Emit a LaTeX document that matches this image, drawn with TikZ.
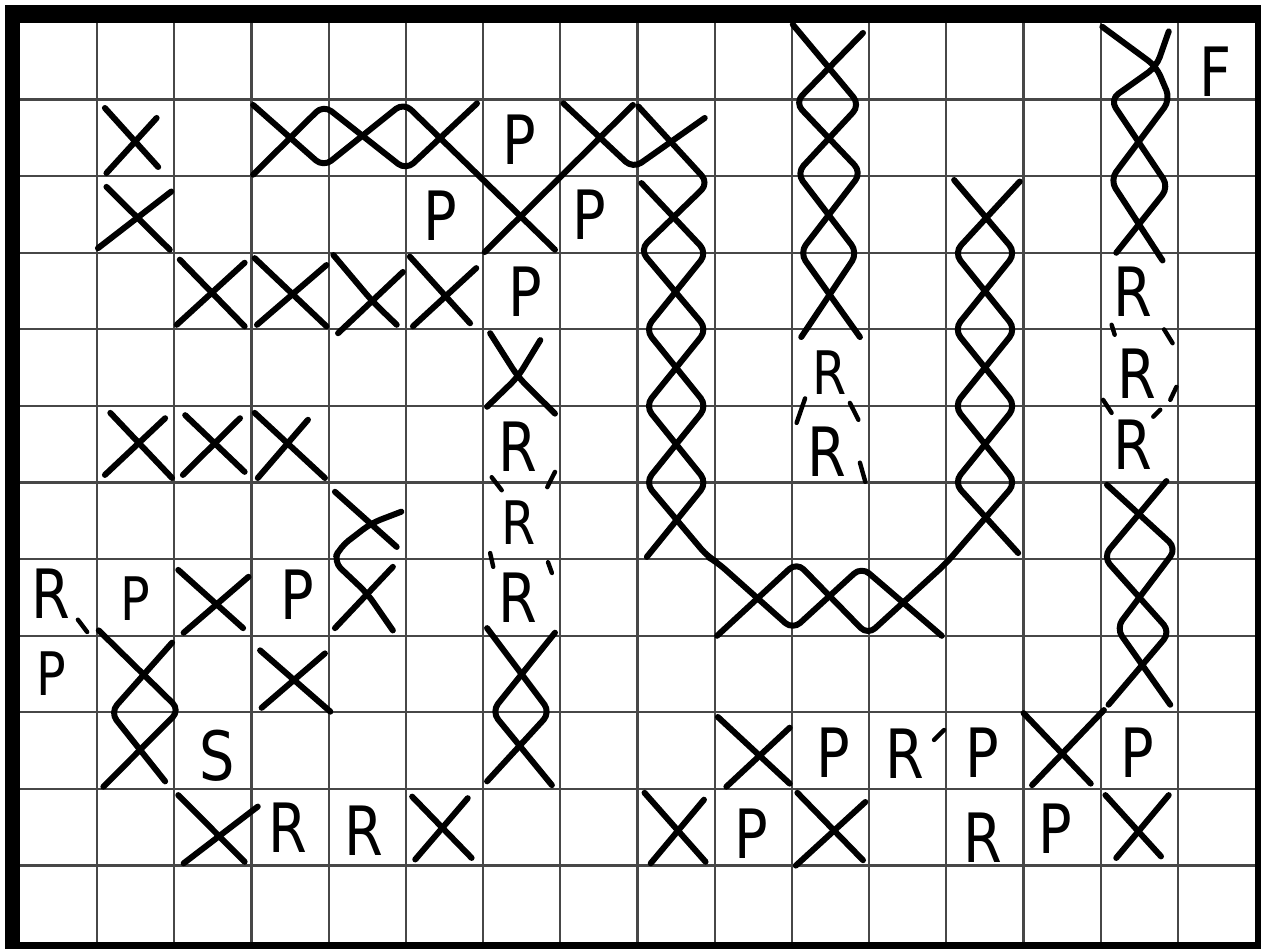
\documentclass[tikz,border=0pt]{standalone}
\usepackage{fontspec}
\newfontfamily\handfont[FakeStretch=0.82]{DejaVu Sans}

\begin{document}
\begin{tikzpicture}[x=38.6pt,y=-38.3pt]
    \tikzset{
        gridline/.style={draw=black!72, line width=1.1pt},
        xstroke/.style={
            draw=black,
            line width=3pt,
            line cap=round,
            line join=round,
            rounded corners=5pt
        },
        ringtick/.style={draw=black, line width=2.2pt, line cap=round},
        tile/.style={
            font=\handfont\fontsize{34}{34}\selectfont,
            inner sep=0pt
        },
        smalltile/.style={tile,font=\handfont\fontsize{30}{30}\selectfont}
    }
    \useasboundingbox (-0.259,-0.300) rectangle (16.140,12.089);

    % frame and grid
    \fill[black] (-0.194,-0.235) rectangle (16.080,12.089);
    \fill[white] (0,0) rectangle (16,12);
    \foreach \c in {1,...,15} \draw[gridline] (\c,0) -- (\c,12);
    \foreach \r in {1,...,11} \draw[gridline] (0,\r) -- (16,\r);

    % upper left walls
    \draw[xstroke] (1.10,1.11) -- (1.79,1.88);
    \draw[xstroke] (1.77,1.24) -- (1.12,1.96);
    \draw[xstroke] (1.12,2.14) -- (1.94,2.96);
    \draw[xstroke] (1.96,2.20) -- (1.01,2.94);
    \draw[xstroke] (3.02,1.07) -- (3.93,1.88) -- (4.97,1.04) -- (6.93,2.96);
    \draw[xstroke] (3.02,1.98) -- (3.93,1.07) -- (5.00,1.92) -- (5.92,1.05);
    \draw[xstroke] (6.02,2.99) -- (7.94,1.07);
    \draw[xstroke] (7.04,1.05) -- (7.94,1.90) -- (8.87,1.24);
    \draw[xstroke] (2.07,3.09) -- (2.91,3.96);
    \draw[xstroke] (2.91,3.13) -- (2.03,3.94);
    \draw[xstroke] (3.04,3.07) -- (3.97,3.96);
    \draw[xstroke] (3.97,3.16) -- (3.07,3.94);
    \draw[xstroke] (4.06,3.03) -- (4.57,3.64) -- (4.88,3.94);
    \draw[xstroke] (4.96,3.25) -- (4.12,4.05);
    \draw[xstroke] (5.05,3.05) -- (5.83,3.92);
    \draw[xstroke] (5.91,3.20) -- (5.09,3.96);
    \draw[xstroke] (6.09,4.05) -- (6.45,4.62) -- (6.93,5.10);
    \draw[xstroke] (6.74,4.14) -- (6.45,4.62) -- (6.05,5.01);

    % middle left walls
    \draw[xstroke] (1.17,5.09) -- (1.97,5.94);
    \draw[xstroke] (1.88,5.16) -- (1.10,5.90);
    \draw[xstroke] (2.14,5.12) -- (2.91,5.86);
    \draw[xstroke] (2.85,5.16) -- (2.11,5.90);
    \draw[xstroke] (3.04,5.09) -- (3.95,5.94);
    \draw[xstroke] (3.73,5.18) -- (3.08,5.94);
    \draw[xstroke] (4.08,6.12) -- (4.88,6.84);
    \draw[xstroke] (4.94,6.38) -- (4.55,6.53) -- (4.15,6.84) -- (4.06,7.03)
        -- (4.50,7.45) -- (4.83,7.93);
    \draw[xstroke] (4.83,7.10) -- (4.08,7.90);
    \draw[xstroke] (2.05,7.14) -- (2.89,7.90);
    \draw[xstroke] (2.96,7.23) -- (2.12,7.96);
    \draw[xstroke] (1.02,7.93) -- (2.07,8.97) -- (1.08,9.97);
    \draw[xstroke] (1.97,8.09) -- (1.17,9.00) -- (1.88,9.90);
    \draw[xstroke] (3.11,8.19) -- (4.02,8.99);
    \draw[xstroke] (3.95,8.23) -- (3.13,8.94);
    \draw[xstroke] (6.05,7.90) -- (6.87,9.00) -- (6.05,9.90);
    \draw[xstroke] (6.93,7.96) -- (6.11,8.99) -- (6.89,9.95);

    % long ropes on the right
    \draw[xstroke] (8.01,1.09) -- (8.92,2.09) -- (8.03,2.96) -- (8.90,4.00)
        -- (8.10,5.00) -- (8.90,6.00) -- (8.12,6.97);
    \draw[xstroke] (8.05,2.09) -- (8.90,3.00) -- (8.10,4.00) -- (8.90,5.00)
        -- (8.10,6.00) -- (8.91,6.97) -- (9.03,7.04) -- (10.01,7.92)
        -- (10.90,7.10) -- (11.94,8.00);
    \draw[xstroke] (10.01,0.02) -- (10.88,1.07) -- (10.06,1.96) -- (10.85,3.00)
        -- (10.12,4.10);
    \draw[xstroke] (10.92,0.13) -- (10.04,1.04) -- (10.90,1.95) -- (10.10,3.00)
        -- (10.88,4.10);
    \draw[xstroke] (12.10,2.05) -- (12.90,3.00) -- (12.10,4.00) -- (12.90,5.00)
        -- (12.10,6.00) -- (12.93,6.92);
    \draw[xstroke] (12.95,2.07) -- (12.10,3.00) -- (12.90,4.00) -- (12.10,5.00)
        -- (12.90,6.00) -- (12.00,7.05) -- (10.98,7.99) -- (10.06,7.04)
        -- (9.03,8.00);
    \draw[xstroke] (14.02,0.05) -- (14.72,0.57) -- (14.90,1.00) -- (14.12,2.05)
        -- (14.80,3.10);
    \draw[xstroke] (14.88,0.11) -- (14.72,0.57) -- (14.12,1.00) -- (14.88,2.14)
        -- (14.20,3.00);
    \draw[xstroke] (14.08,6.03) -- (14.98,6.86) -- (14.20,7.90) -- (14.90,8.90);
    \draw[xstroke] (14.85,5.98) -- (14.03,6.97) -- (14.90,7.95) -- (14.10,8.90);

    % bottom walls
    \draw[xstroke] (9.04,9.06) -- (9.97,9.93);
    \draw[xstroke] (9.97,9.20) -- (9.15,9.97);
    \draw[xstroke] (13.00,9.01) -- (13.87,9.93);
    \draw[xstroke] (14.04,8.97) -- (13.11,9.95);
    \draw[xstroke] (2.05,10.08) -- (2.91,10.95);
    \draw[xstroke] (3.08,10.23) -- (2.12,10.97);
    \draw[xstroke] (5.08,10.10) -- (5.85,10.90);
    \draw[xstroke] (5.80,10.12) -- (5.12,10.92);
    \draw[xstroke] (8.09,10.05) -- (8.88,10.95);
    \draw[xstroke] (8.86,10.14) -- (8.17,10.97);
    \draw[xstroke] (10.07,10.05) -- (10.92,10.93);
    \draw[xstroke] (10.95,10.17) -- (10.05,11.00);
    \draw[xstroke] (14.06,10.08) -- (14.78,10.88);
    \draw[xstroke] (14.88,10.08) -- (14.20,10.90);

    % leftover bits of rings round some R
    \draw[ringtick] (6.11,5.93) -- (6.24,6.10);
    \draw[ringtick] (6.93,5.86) -- (6.83,6.06);
    \draw[ringtick] (6.09,6.92) -- (6.13,7.10);
    \draw[ringtick] (6.84,7.04) -- (6.89,7.18);
    \draw[ringtick] (10.17,4.90) -- (10.06,5.22);
    \draw[ringtick] (10.75,4.96) -- (10.86,5.18);
    \draw[ringtick] (10.88,5.74) -- (10.95,5.99);
    \draw[ringtick] (14.14,3.94) -- (14.18,4.07);
    \draw[ringtick] (14.82,4.00) -- (14.93,4.18);
    \draw[ringtick] (14.98,4.75) -- (14.90,4.92);
    \draw[ringtick] (14.03,4.92) -- (14.14,5.09);
    \draw[ringtick] (14.77,5.05) -- (14.68,5.14);
    \draw[ringtick] (0.75,7.79) -- (0.87,7.95);
    \draw[ringtick] (11.84,9.36) -- (11.97,9.23);

    % letters
    \node[tile] (finish) at (15.48,0.63) {F};
    \node[tile] (start) at (2.56,9.56) {S};
    \node[tile] (p-1-6) at (6.47,1.52) {P};
    \node[tile] (p-2-5) at (5.45,2.52) {P};
    \node[tile] (p-2-7) at (7.38,2.50) {P};
    \node[tile] (p-3-6) at (6.54,3.51) {P};
    \node[smalltile] (p-7-1) at (1.50,7.51) {P};
    \node[tile] (p-7-3) at (3.59,7.47) {P};
    \node[smalltile] (p-8-0) at (0.41,8.49) {P};
    \node[tile] (p-9-10) at (10.53,9.52) {P};
    \node[tile] (p-9-12) at (12.47,9.52) {P};
    \node[tile] (p-9-14) at (14.47,9.52) {P};
    \node[tile] (p-10-9) at (9.47,10.59) {P};
    \node[tile] (p-10-13) at (13.41,10.52) {P};
    \node[tile] (r-3-14) at (14.42,3.51) {R};
    \node[tile] (r-4-14) at (14.47,4.58) {R};
    \node[tile] (r-5-14) at (14.42,5.51) {R};
    \node[smalltile] (r-4-10) at (10.49,4.57) {R};
    \node[tile] (r-5-10) at (10.45,5.60) {R};
    \node[tile] (r-5-6) at (6.45,5.53) {R};
    \node[smalltile] (r-6-6) at (6.46,6.52) {R};
    \node[tile] (r-7-6) at (6.45,7.50) {R};
    \node[tile] (r-7-0) at (0.40,7.45) {R};
    \node[tile] (r-9-11) at (11.46,9.54) {R};
    \node[tile] (r-10-3) at (3.47,10.50) {R};
    \node[tile] (r-10-4) at (4.46,10.55) {R};
    \node[tile] (r-10-12) at (12.47,10.63) {R};
\end{tikzpicture}
\end{document}
